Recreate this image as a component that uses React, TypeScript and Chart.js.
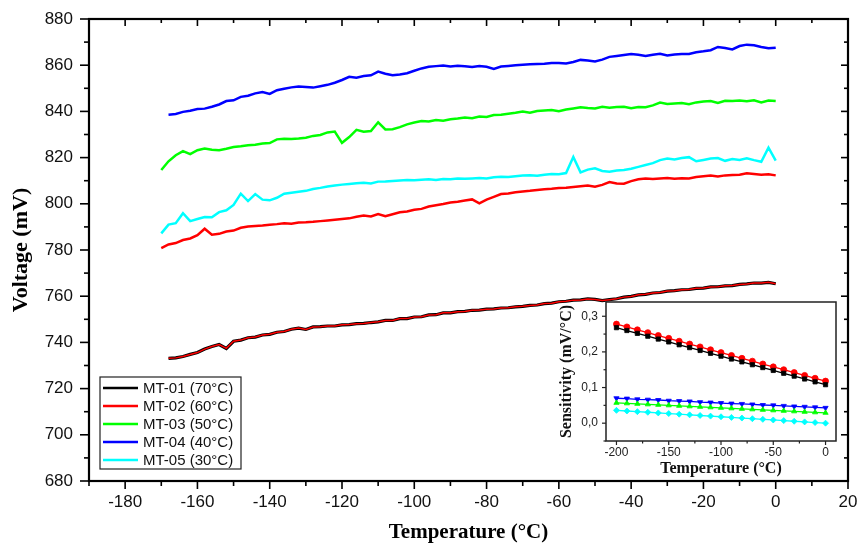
import React, { useEffect, useRef } from "react";
import { Chart, registerables } from "chart.js";

Chart.register(...registerables);

// ---------- Main chart data ----------
const temperatures = [
  -170, -168, -166, -164, -162, -160, -158, -156, -154, -152,
  -150, -148, -146, -144, -142, -140, -138, -136, -134, -132,
  -130, -128, -126, -124, -122, -120, -118, -116, -114, -112,
  -110, -108, -106, -104, -102, -100, -98, -96, -94, -92,
  -90, -88, -86, -84, -82, -80, -78, -76, -74, -72,
  -70, -68, -66, -64, -62, -60, -58, -56, -54, -52,
  -50, -48, -46, -44, -42, -40, -38, -36, -34, -32,
  -30, -28, -26, -24, -22, -20, -18, -16, -14, -12,
  -10, -8, -6, -4, -2, 0,
];

const mt01 = [
  null, 733.1, 733.3, 733.9, 734.8, 735.6, 737.1, 738.2, 739.1, 737.4,
  740.5, 741.0, 742.0, 742.3, 743.2, 743.5, 744.4, 744.7, 745.7, 746.2,
  745.6, 746.7, 746.8, 747.1, 747.1, 747.6, 747.7, 748.1, 748.2, 748.6,
  748.9, 749.5, 749.5, 750.3, 750.3, 751.0, 751.1, 751.9, 752.0, 752.8,
  752.8, 753.3, 753.4, 753.9, 754.0, 754.4, 754.5, 754.9, 755.0, 755.4,
  755.6, 756.0, 756.2, 756.8, 757.0, 757.6, 757.8, 758.3, 758.4, 758.8,
  758.6, 758.1, 758.5, 758.9, 759.6, 759.9, 760.6, 760.8, 761.4, 761.6,
  762.2, 762.4, 762.8, 762.9, 763.4, 763.5, 764.0, 764.1, 764.5, 764.6,
  765.1, 765.3, 765.7, 765.7, 766.0, 765.4,
];

const mt02 = [
  780.8, 782.4, 783.0, 784.3, 785.0, 786.4, 789.2, 786.6, 787.0, 788.0,
  788.4, 789.6, 790.2, 790.4, 790.6, 790.9, 791.2, 791.6, 791.4, 791.9,
  792.0, 792.2, 792.5, 792.8, 793.1, 793.4, 793.7, 794.4, 794.9, 794.5,
  795.6, 794.6, 795.5, 796.3, 796.7, 797.4, 797.8, 798.8, 799.4, 799.9,
  800.6, 800.9, 801.4, 801.9, 800.2, 801.8, 803.0, 804.2, 804.5, 805.0,
  805.3, 805.6, 806.0, 806.3, 806.5, 806.8, 807.0, 807.3, 807.6, 807.9,
  807.4, 808.2, 809.4, 808.8, 808.7, 809.8, 810.6, 810.9, 810.7, 811.0,
  811.2, 810.8, 811.1, 811.0, 811.6, 811.9, 812.2, 811.8, 812.3, 812.5,
  812.6, 813.2, 812.9, 812.6, 812.8, 812.3,
];

const mt03 = [
  814.6, 818.4, 821.0, 822.8, 821.5, 823.2, 823.9, 823.4, 823.2, 823.8,
  824.6, 824.9, 825.3, 825.6, 826.1, 826.3, 827.9, 828.2, 828.1, 828.3,
  828.6, 829.4, 829.8, 830.9, 831.3, 826.4, 828.9, 832.0, 831.2, 831.5,
  835.3, 832.2, 832.3, 833.2, 834.4, 835.2, 835.8, 835.6, 836.3, 836.0,
  836.6, 836.9, 837.4, 837.0, 837.8, 837.6, 838.4, 838.6, 839.0, 839.4,
  839.9, 839.4, 840.2, 840.4, 840.6, 840.1, 840.8, 841.3, 841.8, 841.5,
  841.3, 842.0, 841.6, 841.9, 842.0, 841.4, 841.9, 841.8, 842.6, 843.8,
  843.2, 843.4, 843.6, 843.1, 843.9, 844.3, 844.5, 843.7, 844.6, 844.5,
  844.7, 844.4, 844.8, 843.9, 844.7, 844.5,
];

const mt04 = [
  null, 838.6, 838.9, 839.8, 840.3, 841.0, 841.2, 842.0, 843.0, 844.5,
  844.8, 846.3, 846.8, 847.8, 848.4, 847.6, 849.2, 849.8, 850.4, 850.8,
  850.6, 850.3, 850.9, 851.5, 852.4, 853.6, 855.0, 854.6, 855.3, 855.6,
  857.2, 856.3, 855.7, 856.0, 856.5, 857.6, 858.6, 859.3, 859.6, 859.9,
  859.4, 859.8, 859.5, 859.2, 859.6, 859.3, 858.4, 859.4, 859.7, 860.0,
  860.2, 860.4, 860.5, 860.6, 860.9, 861.0, 860.7, 861.4, 862.3, 862.0,
  861.6, 862.4, 863.6, 864.0, 864.4, 864.8, 864.5, 864.0, 864.5, 864.9,
  864.2, 864.6, 864.8, 864.9, 865.6, 866.0, 866.5, 867.9, 867.4, 866.8,
  868.3, 868.9, 868.6, 867.9, 867.3, 867.6,
];

const mt05 = [
  787.2, 791.0, 791.6, 795.9, 792.5, 793.4, 794.3, 794.2, 796.4, 797.2,
  799.5, 804.4, 801.2, 804.2, 801.8, 801.5, 802.6, 804.4, 804.8, 805.2,
  805.6, 806.4, 806.9, 807.5, 807.9, 808.3, 808.6, 808.9, 809.1, 808.8,
  809.6, 809.7, 809.9, 810.1, 810.3, 810.2, 810.4, 810.6, 810.3, 810.7,
  810.6, 810.9, 810.8, 811.0, 811.2, 811.0, 811.5, 811.7, 811.6, 811.9,
  812.2, 812.4, 812.1, 812.6, 812.9, 812.8, 813.3, 820.3, 813.6, 814.8,
  815.4, 814.2, 813.9, 814.4, 814.6, 815.2, 816.0, 816.8, 817.6, 818.9,
  819.6, 819.2, 819.8, 820.2, 818.4, 819.0, 819.6, 819.8, 818.6, 819.4,
  819.0, 819.7, 818.9, 818.2, 824.3, 818.7,
];

const seriesLabels = ["MT-01 (70°C)", "MT-02 (60°C)", "MT-03 (50°C)", "MT-04 (40°C)", "MT-05 (30°C)"];
const seriesColors = ["#000000", "#ff0000", "#00ff00", "#0000ff", "#00ffff"];

// Main axes
const X_MIN = -190, X_MAX = 20, X_MAJOR = 20, X_MINOR = 10;
const Y_MIN = 680, Y_MAX = 880, Y_MAJOR = 20, Y_MINOR = 10;

// ---------- Inset data ----------
const sensTemps = [-200, -190, -180, -170, -160, -150, -140, -130, -120, -110, -100, -90, -80, -70, -60, -50, -40, -30, -20, -10, 0];
const sens01 = [0.268, 0.260, 0.252, 0.244, 0.236, 0.228, 0.220, 0.212, 0.204, 0.196, 0.188, 0.180, 0.172, 0.164, 0.156, 0.148, 0.140, 0.132, 0.124, 0.116, 0.108];
const sens02 = [0.278, 0.270, 0.262, 0.254, 0.246, 0.238, 0.230, 0.222, 0.214, 0.206, 0.198, 0.190, 0.182, 0.174, 0.166, 0.158, 0.150, 0.142, 0.134, 0.126, 0.118];
const sens03 = [0.057, 0.0556, 0.0542, 0.0528, 0.0514, 0.050, 0.0486, 0.0472, 0.0458, 0.0444, 0.043, 0.0416, 0.0402, 0.0388, 0.0374, 0.036, 0.0346, 0.0332, 0.0318, 0.0304, 0.029];
const sens04 = [0.070, 0.069, 0.067, 0.066, 0.065, 0.063, 0.062, 0.061, 0.059, 0.058, 0.0565, 0.055, 0.054, 0.0525, 0.051, 0.050, 0.0485, 0.047, 0.046, 0.0445, 0.043];
const sens05 = [0.036, 0.0342, 0.0324, 0.0306, 0.0288, 0.027, 0.0252, 0.0234, 0.0216, 0.0198, 0.018, 0.0162, 0.0144, 0.0126, 0.0108, 0.009, 0.0072, 0.0054, 0.0036, 0.0018, 0.000];
const insetMarkers = ["rect", "circle", "triangle", "triangle", "rectRot"];
const insetRotation = [0, 0, 0, 180, 0];

const IX_MIN = -210, IX_MAX = 10, IX_MAJOR = 50, IX_MINOR = 25;
const IY_MIN = -0.05, IY_MAX = 0.34, IY_MAJOR = 0.1, IY_MINOR = 0.05;

const SANS = '"Liberation Sans", Arial, sans-serif';
const SERIF = '"Liberation Serif", "Times New Roman", serif';

const toPoints = (xs: number[], ys: (number | null)[]) =>
  xs.map((x, i) => ({ x, y: ys[i] })).filter((p) => p.y !== null);

function drawTicks(ctx: CanvasRenderingContext2D, scale: any, min: number, max: number, minor: number, major: number,
  edge: number, dir: number, horiz: boolean, majLen: number, minLen: number) {
  const kStart = Math.ceil(min / minor - 1e-9);
  const kEnd = Math.floor(max / minor + 1e-9);
  for (let k = kStart; k <= kEnd; k++) {
    const v = k * minor;
    const isMajor = Math.abs(v / major - Math.round(v / major)) < 1e-6;
    const len = isMajor ? majLen : minLen;
    const p = scale.getPixelForValue(v);
    ctx.beginPath();
    if (horiz) {
      ctx.moveTo(p, edge);
      ctx.lineTo(p, edge + dir * len);
    } else {
      ctx.moveTo(edge, p);
      ctx.lineTo(edge + dir * len, p);
    }
    ctx.stroke();
  }
}

const fitX = (h: number) => (s: any) => { s.height = h; s.paddingLeft = 0; s.paddingRight = 0; };
const fitY = (w: number) => (s: any) => { s.width = w; s.paddingTop = 0; s.paddingBottom = 0; };

const mainDecor = {
  id: "mainDecor",
  afterDraw(chart: any) {
    const { ctx, chartArea, scales } = chart;
    const { left, right, top, bottom } = chartArea;
    ctx.save();
    ctx.strokeStyle = "#000";
    ctx.lineWidth = 1.6;
    drawTicks(ctx, scales.x, X_MIN, X_MAX, X_MINOR, X_MAJOR, bottom, 1, true, 8, 5);
    drawTicks(ctx, scales.x, X_MIN, X_MAX, X_MINOR, X_MAJOR, top, 1, true, 7, 4);
    drawTicks(ctx, scales.y, Y_MIN, Y_MAX, Y_MINOR, Y_MAJOR, left, -1, false, 9, 5);
    drawTicks(ctx, scales.y, Y_MIN, Y_MAX, Y_MINOR, Y_MAJOR, right, -1, false, 7, 4);
    ctx.lineWidth = 2.2;
    ctx.strokeRect(left, top, right - left, bottom - top);

    // legend box
    const lx = left + 11, ly = bottom - 104, lw = 141, lh = 92;
    ctx.fillStyle = "#fff";
    ctx.fillRect(lx, ly, lw, lh);
    ctx.lineWidth = 1.2;
    ctx.strokeStyle = "#222";
    ctx.strokeRect(lx, ly, lw, lh);
    ctx.font = `15px ${SANS}`;
    ctx.textBaseline = "middle";
    ctx.textAlign = "left";
    seriesLabels.forEach((lab, i) => {
      const yy = ly + 11 + i * 18;
      ctx.strokeStyle = seriesColors[i];
      ctx.lineWidth = 2.5;
      ctx.beginPath();
      ctx.moveTo(lx + 3, yy);
      ctx.lineTo(lx + 38, yy);
      ctx.stroke();
      ctx.fillStyle = "#111";
      ctx.fillText(lab, lx + 43, yy + 1);
    });
    ctx.restore();
  },
};

const insetDecor = {
  id: "insetDecor",
  beforeDraw(chart: any) {
    const { ctx, chartArea } = chart;
    const { left, right, top, bottom } = chartArea;
    ctx.save();
    ctx.fillStyle = "#fff";
    ctx.fillRect(left, top, right - left, bottom - top);
    ctx.restore();
  },
  afterDraw(chart: any) {
    const { ctx, chartArea, scales } = chart;
    const { left, right, top, bottom } = chartArea;
    ctx.save();
    ctx.strokeStyle = "#222";
    ctx.lineWidth = 1.2;
    drawTicks(ctx, scales.x, IX_MIN, IX_MAX, IX_MINOR, IX_MAJOR, bottom, 1, true, 4, 2.5);
    drawTicks(ctx, scales.y, IY_MIN, IY_MAX, IY_MINOR, IY_MAJOR, left, -1, false, 4, 2.5);
    ctx.lineWidth = 1.5;
    ctx.strokeRect(left, top, right - left, bottom - top);
    ctx.restore();
  },
};

export default function App() {
  const mainRef = useRef<HTMLCanvasElement>(null);
  const insetRef = useRef<HTMLCanvasElement>(null);

  useEffect(() => {
    const mainSeries = [mt01, mt02, mt03, mt04, mt05];
    const datasets: any[] = mainSeries.map((s, i) => ({
      label: seriesLabels[i],
      data: toPoints(temperatures, s),
      borderColor: seriesColors[i],
      backgroundColor: seriesColors[i],
      borderWidth: i === 0 ? 3.2 : 2.5,
      pointRadius: 0,
      tension: 0,
      order: 5 - i,
    }));
    // red trace overlaid on MT-01 curve
    datasets.push({
      label: "MT-02 overlay",
      data: toPoints(temperatures, mt01),
      borderColor: "#ff0000",
      borderWidth: 1.5,
      pointRadius: 0,
      tension: 0,
      order: -1,
    });

    const main = new Chart(mainRef.current!, {
      type: "line",
      data: { datasets },
      plugins: [mainDecor],
      options: {
        responsive: false,
        animation: false,
        layout: { padding: { left: 0, top: 19, right: 12, bottom: 0 } },
        plugins: { legend: { display: false }, tooltip: { enabled: false } },
        scales: {
          x: {
            type: "linear",
            min: X_MIN,
            max: X_MAX,
            grid: { display: false, drawTicks: false },
            border: { display: false },
            afterFit: fitX(64),
            ticks: {
              stepSize: X_MAJOR,
              includeBounds: false,
              padding: 11,
              color: "#111",
              font: { family: SANS, size: 17 },
              maxRotation: 0,
            },
            title: {
              display: true,
              text: "Temperature (°C)",
              color: "#000",
              font: { family: SERIF, size: 21, weight: "bold" },
              padding: { top: 0, bottom: 0 },
            },
          },
          y: {
            type: "linear",
            min: Y_MIN,
            max: Y_MAX,
            grid: { display: false, drawTicks: false },
            border: { display: false },
            afterFit: fitY(89),
            ticks: {
              stepSize: Y_MAJOR,
              includeBounds: false,
              padding: 16,
              color: "#111",
              font: { family: SANS, size: 17 },
            },
            title: {
              display: true,
              text: "Voltage (mV)",
              color: "#000",
              font: { family: SERIF, size: 22, weight: "bold" },
              padding: { top: 8, bottom: 0 },
            },
          },
        },
      },
    } as any);

    const insetSeries = [sens01, sens02, sens03, sens04, sens05];
    const inset = new Chart(insetRef.current!, {
      type: "line",
      data: {
        datasets: insetSeries.map((s, i) => ({
          label: seriesLabels[i],
          data: toPoints(sensTemps, s),
          borderColor: seriesColors[i],
          backgroundColor: seriesColors[i],
          borderWidth: 1.3,
          pointStyle: insetMarkers[i],
          rotation: insetRotation[i],
          pointRadius: 3,
          pointBorderWidth: 0.8,
          tension: 0,
        })),
      },
      plugins: [insetDecor],
      options: {
        responsive: false,
        animation: false,
        layout: { padding: { left: 0, top: 7, right: 6, bottom: 0 } },
        plugins: { legend: { display: false }, tooltip: { enabled: false } },
        scales: {
          x: {
            type: "linear",
            min: IX_MIN,
            max: IX_MAX,
            grid: { display: false, drawTicks: false },
            border: { display: false },
            afterFit: fitX(41),
            ticks: {
              stepSize: IX_MAJOR,
              includeBounds: false,
              padding: 4,
              color: "#222",
              font: { family: SANS, size: 12 },
              maxRotation: 0,
            },
            title: {
              display: true,
              text: "Temperature (°C)",
              color: "#111",
              font: { family: SERIF, size: 16, weight: "bold" },
              padding: { top: 0, bottom: 4 },
            },
          },
          y: {
            type: "linear",
            min: IY_MIN,
            max: IY_MAX,
            grid: { display: false, drawTicks: false },
            border: { display: false },
            afterFit: fitY(50),
            ticks: {
              stepSize: IY_MAJOR,
              includeBounds: false,
              padding: 8,
              color: "#222",
              font: { family: SANS, size: 12 },
              callback: (v: any) => Number(v).toFixed(1).replace(".", ","),
            },
            title: {
              display: true,
              text: "Sensitivity (mV/°C)",
              color: "#111",
              font: { family: SERIF, size: 16, weight: "bold" },
              padding: { top: 1, bottom: 0 },
            },
          },
        },
      },
    } as any);

    return () => {
      main.destroy();
      inset.destroy();
    };
  }, []);

  return (
    <div style={{ position: "fixed", left: 0, top: 0, width: 860, height: 545, background: "#fff" }}>
      <canvas ref={mainRef} width={860} height={545} style={{ position: "absolute", left: 0, top: 0, display: "block" }} />
      <canvas ref={insetRef} width={286} height={187} style={{ position: "absolute", left: 556, top: 295, display: "block" }} />
    </div>
  );
}
